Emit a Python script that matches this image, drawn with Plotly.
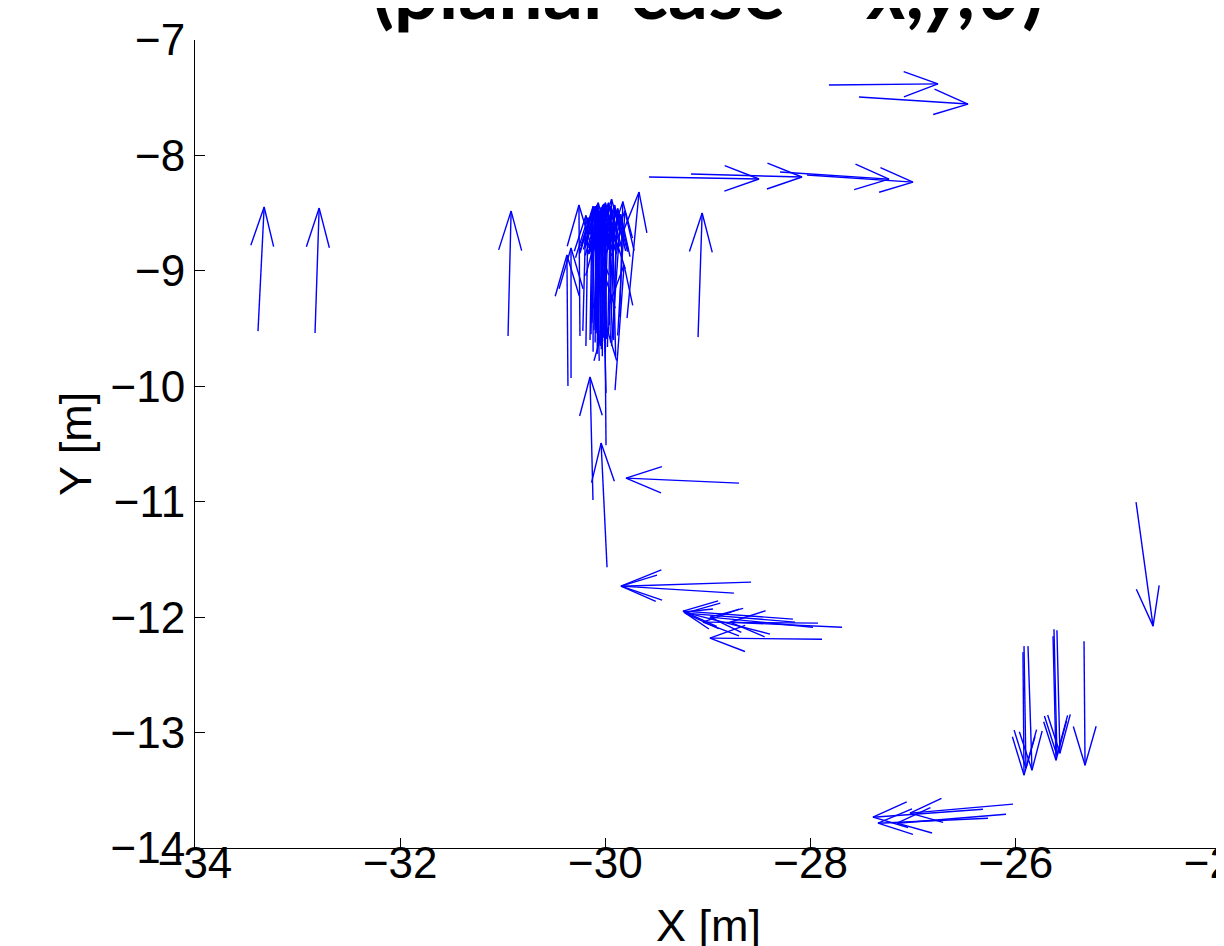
import math
import plotly.figure_factory as ff

# Arrow tails (x, y) and components (u, v) in metres
x_tail = [
    -33.386, -32.830, -30.949, -29.097,
    -27.821, -27.528,
    -29.575, -29.166, -28.298, -28.035,
    -28.698,
    -28.581, -28.747,
    -29.984, -30.121,
    -28.172, -28.152, -27.928, -27.977, -27.694, -27.889, -28.396,
    -25.930, -25.920, -25.881,
    -25.637, -25.628, -25.599,
    -25.335, -24.828,
    -26.320, -26.027, -26.271, -26.095,
    -30.248, -30.365, -30.335, -29.789, -29.994, -29.994, -30.111,
    -30.072, -30.150, -30.030, -29.960, -29.920, -30.090, -30.050,
    -29.860, -30.190, -30.010, -30.130, -29.900, -30.220, -29.940,
    -30.060, -29.906, -30.000, -30.080, -30.020, -29.970,
    -30.100, -30.040, -29.990, -30.070, -30.120, -29.950, -30.010,
    -30.060, -29.930, -30.140, -30.030, -29.980, -30.090, -29.880,
    -30.050, -30.000,
]
y_tail = [
    -9.522, -9.539, -9.565, -9.574,
    -7.390, -7.494,
    -8.187, -8.161, -8.144, -8.170,
    -10.839,
    -11.697, -11.792,
    -11.567, -10.986,
    -12.017, -12.043, -12.052, -12.087, -12.087, -12.191, -12.147,
    -12.303, -12.251, -12.251,
    -12.165, -12.104, -12.113,
    -12.208, -11.003,
    -13.664, -13.620, -13.742, -13.707,
    -9.565, -9.998, -9.929, -9.409, -10.510, -10.059, -9.513,
    -9.643, -9.600, -9.560, -9.470, -9.600, -9.540, -9.650,
    -9.400, -9.650, -9.610, -9.450, -9.740, -9.520, -9.650,
    -9.780, -10.033, -9.700, -9.720, -9.580, -9.550,
    -9.620, -9.680, -9.590, -9.560, -9.700, -9.620, -9.520,
    -9.600, -9.580, -9.550, -9.740, -9.660, -9.500, -9.560,
    -9.630, -9.600,
]
u_comp = [
    0.060, 0.040, 0.030, 0.040,
    1.062, 1.062,
    1.072, 1.082, 1.062, 1.033,
    -1.101,
    -1.267, -1.101,
    -0.058, -0.029,
    -1.072, -1.072, -1.121, -1.004, -1.092, -1.092, -0.838,
    0.010, 0.019, 0.039,
    0.029, 0.029, 0.029,
    0.010, 0.166,
    -1.072, -1.004, -1.072, -1.062,
    -0.010, -0.010, 0.000, 0.117, -0.010, -0.029, 0.029,
    0.019, 0.020, 0.030, 0.020, 0.030, 0.020, 0.010,
    0.030, 0.020, 0.040, 0.030, -0.030, 0.030, 0.090,
    -0.030, 0.088, 0.000, 0.015, -0.020, 0.060,
    0.010, 0.020, -0.010, 0.030, 0.000, 0.040, 0.015,
    -0.020, 0.050, 0.020, 0.010, 0.030, 0.000, 0.070,
    0.025, -0.015,
]
v_comp = [
    1.075, 1.083, 1.083, 1.075,
    0.010, -0.061,
    -0.017, -0.026, -0.061, -0.061,
    0.043,
    -0.035, 0.061,
    1.075, 1.066,
    0.069, 0.078, 0.009, 0.087, 0.043, 0.009, 0.191,
    -1.066, -1.057, -1.075,
    -1.075, -1.092, -1.066,
    -1.075, -1.075,
    -0.069, -0.078, -0.043, -0.078,
    1.135, 1.135, 1.127, 1.092, 1.066, 1.066, 1.083,
    1.130, 1.110, 1.150, 1.090, 1.120, 1.130, 1.160,
    1.000, 1.110, 1.200, 1.010, 1.100, 1.000, 1.140,
    1.080, 1.083, 1.250, 1.240, 1.130, 1.120,
    1.170, 1.230, 1.150, 1.100, 1.240, 1.160, 1.090,
    1.170, 1.120, 1.110, 1.290, 1.220, 1.060, 1.080,
    1.200, 1.180,
]

x_ticks = [-34, -32, -30, -28, -26, -24]
y_ticks = [-14, -13, -12, -11, -10, -9, -8, -7]

fig = ff.create_quiver(
    x_tail, y_tail, u_comp, v_comp,
    scale=1, arrow_scale=0.33, angle=math.atan(0.33),
    line=dict(color="#0000ff", width=1.4),
)

font_main = "Liberation Sans, Arial, sans-serif"
axis_common = dict(
    showgrid=False, zeroline=False, showline=True, linecolor="black",
    linewidth=1, ticks="inside", ticklen=10, tickcolor="black",
    tickfont=dict(family=font_main, size=44, color="black"),
    mirror=False, automargin=False, ticklabeloverflow="allow",
)
fig.update_layout(
    width=1224, height=946,
    margin=dict(l=187, r=11, t=32, b=106, autoexpand=False),
    paper_bgcolor="white", plot_bgcolor="white",
    showlegend=False,
    title=dict(
        text="(planar case – <i>x,y,θ</i>)",
        font=dict(family="Lato, Open Sans, sans-serif", size=79, color="black", weight="bold"),
        x=0.5, xref="paper", xanchor="center",
        y=1.0, yref="paper", yanchor="bottom", pad=dict(b=21),
        automargin=False,
    ),
    xaxis=dict(
        range=[-34, -24], tickvals=x_ticks,
        ticktext=["−" + str(abs(t)) for t in x_ticks],
        ticklabelstandoff=-24,
        **axis_common,
    ),
    yaxis=dict(
        range=[-14, -7], tickvals=y_ticks,
        ticktext=["−" + str(abs(t)) for t in y_ticks],
        ticklabelstandoff=0,
        **axis_common,
    ),
    annotations=[
        dict(text="X [m]", xref="paper", yref="paper", x=0.5, y=0,
             xanchor="center", yanchor="middle", yshift=-77, showarrow=False,
             font=dict(family=font_main, size=45, color="black")),
        dict(text="Y [m]", xref="paper", yref="paper", x=0, y=0.5,
             xanchor="center", yanchor="middle", xshift=-120, textangle=-90,
             showarrow=False,
             font=dict(family=font_main, size=45, color="black")),
    ],
)

fig.write_html("out.html")
